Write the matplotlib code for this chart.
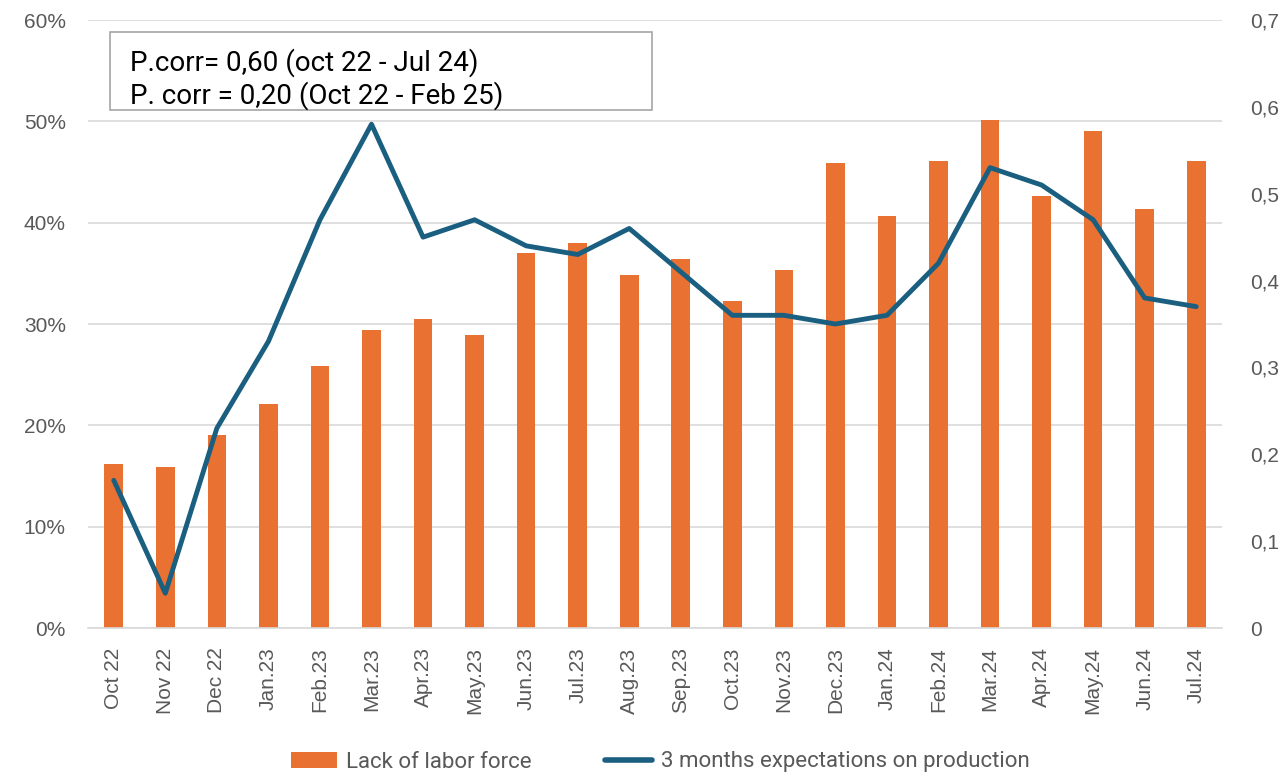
import matplotlib
matplotlib.use("Agg")
import matplotlib.pyplot as plt
from matplotlib.ticker import FuncFormatter, MultipleLocator
from matplotlib.patches import Patch, Rectangle
from matplotlib.lines import Line2D

categories = ["Oct 22", "Nov 22", "Dec 22", "Jan.23", "Feb.23", "Mar.23", "Apr.23", "May.23",
              "Jun.23", "Jul.23", "Aug.23", "Sep.23", "Oct.23", "Nov.23", "Dec.23", "Jan.24",
              "Feb.24", "Mar.24", "Apr.24", "May.24", "Jun.24", "Jul.24"]
lack_labor = [16.2, 15.9, 19.0, 22.1, 25.9, 29.4, 30.5, 28.9, 37.0, 38.0, 34.8, 36.4,
              32.3, 35.3, 45.9, 40.7, 46.1, 50.1, 42.6, 49.0, 41.3, 46.1]
expectations = [0.17, 0.04, 0.23, 0.33, 0.47, 0.58, 0.45, 0.47, 0.44, 0.43, 0.46, 0.41,
                0.36, 0.36, 0.35, 0.36, 0.42, 0.53, 0.51, 0.47, 0.38, 0.37]

BAR = "#E97132"
LINE = "#1A5E80"
GRID = "#D9D9D9"
TXT = "#595959"

plt.rcParams['font.family'] = ['Liberation Sans', 'DejaVu Sans']

fig = plt.figure(figsize=(12.81, 7.74), dpi=100)
ax = fig.add_axes([88/1281, 146/774, 1134/1281, 608/774])
ax2 = ax.twinx()

x = list(range(len(categories)))
ax.bar(x, lack_labor, width=0.36, color=BAR, zorder=2)
ax2.plot(x, expectations, color=LINE, lw=3.5, solid_capstyle='round', solid_joinstyle='round', zorder=3)

ax.set_xlim(-0.5, len(categories) - 0.5)
ax.set_ylim(0, 60)
ax2.set_ylim(0, 0.7)
ax.yaxis.set_major_locator(MultipleLocator(10))
ax2.yaxis.set_major_locator(MultipleLocator(0.1))
ax.yaxis.set_major_formatter(FuncFormatter(lambda v, p: f"{v:.0f}%"))
ax2.yaxis.set_major_formatter(FuncFormatter(lambda v, p: "0" if abs(v) < 1e-9 else f"{v:.1f}".replace(".", ",")))

ax.grid(axis='y', color=GRID, lw=1.2, zorder=0)
ax.set_axisbelow(True)
for a in (ax, ax2):
    for s in a.spines.values():
        s.set_visible(False)
ax.spines['bottom'].set_visible(True)
ax.spines['bottom'].set_color(GRID)
ax.spines['bottom'].set_linewidth(1.2)

ax.set_xticks(x)
ax.set_xticklabels(categories, rotation=90, fontsize=15, color=TXT)
ax.tick_params(axis='x', length=0, pad=14)
ax.tick_params(axis='y', length=0, pad=16, labelsize=15, labelcolor=TXT)
ax2.tick_params(axis='y', length=0, pad=20, labelsize=15, labelcolor=TXT)

fig.text(130/1281, 1 - 79/774, "P.corr= 0,60 (oct 22 - Jul 24)\nP. corr = 0,20 (Oct 22 - Feb 25)",
         fontsize=20, color="black", va='center', ha='left', linespacing=1.22,
         family=['Roboto', 'DejaVu Sans'])
fig.patches.append(Rectangle((110/1281, 1 - 110/774), 542/1281, 78/774,
                             transform=fig.transFigure, fill=False, edgecolor="#A6A6A6", lw=1.2))

handles = [Patch(facecolor=BAR, edgecolor='none'),
           Line2D([0], [0], color=LINE, lw=4, solid_capstyle='round')]
fig.legend(handles, ["Lack of labor force", "3 months expectations on production"],
           loc='center', bbox_to_anchor=(660/1281, 1 - 762/774), ncol=2, frameon=False,
           labelcolor=TXT, handlelength=2.1, handleheight=0.7, columnspacing=3.3,
           handletextpad=0.4, prop={'family': ['Roboto', 'DejaVu Sans'], 'size': 16})

fig.savefig("out.png", dpi=100)
